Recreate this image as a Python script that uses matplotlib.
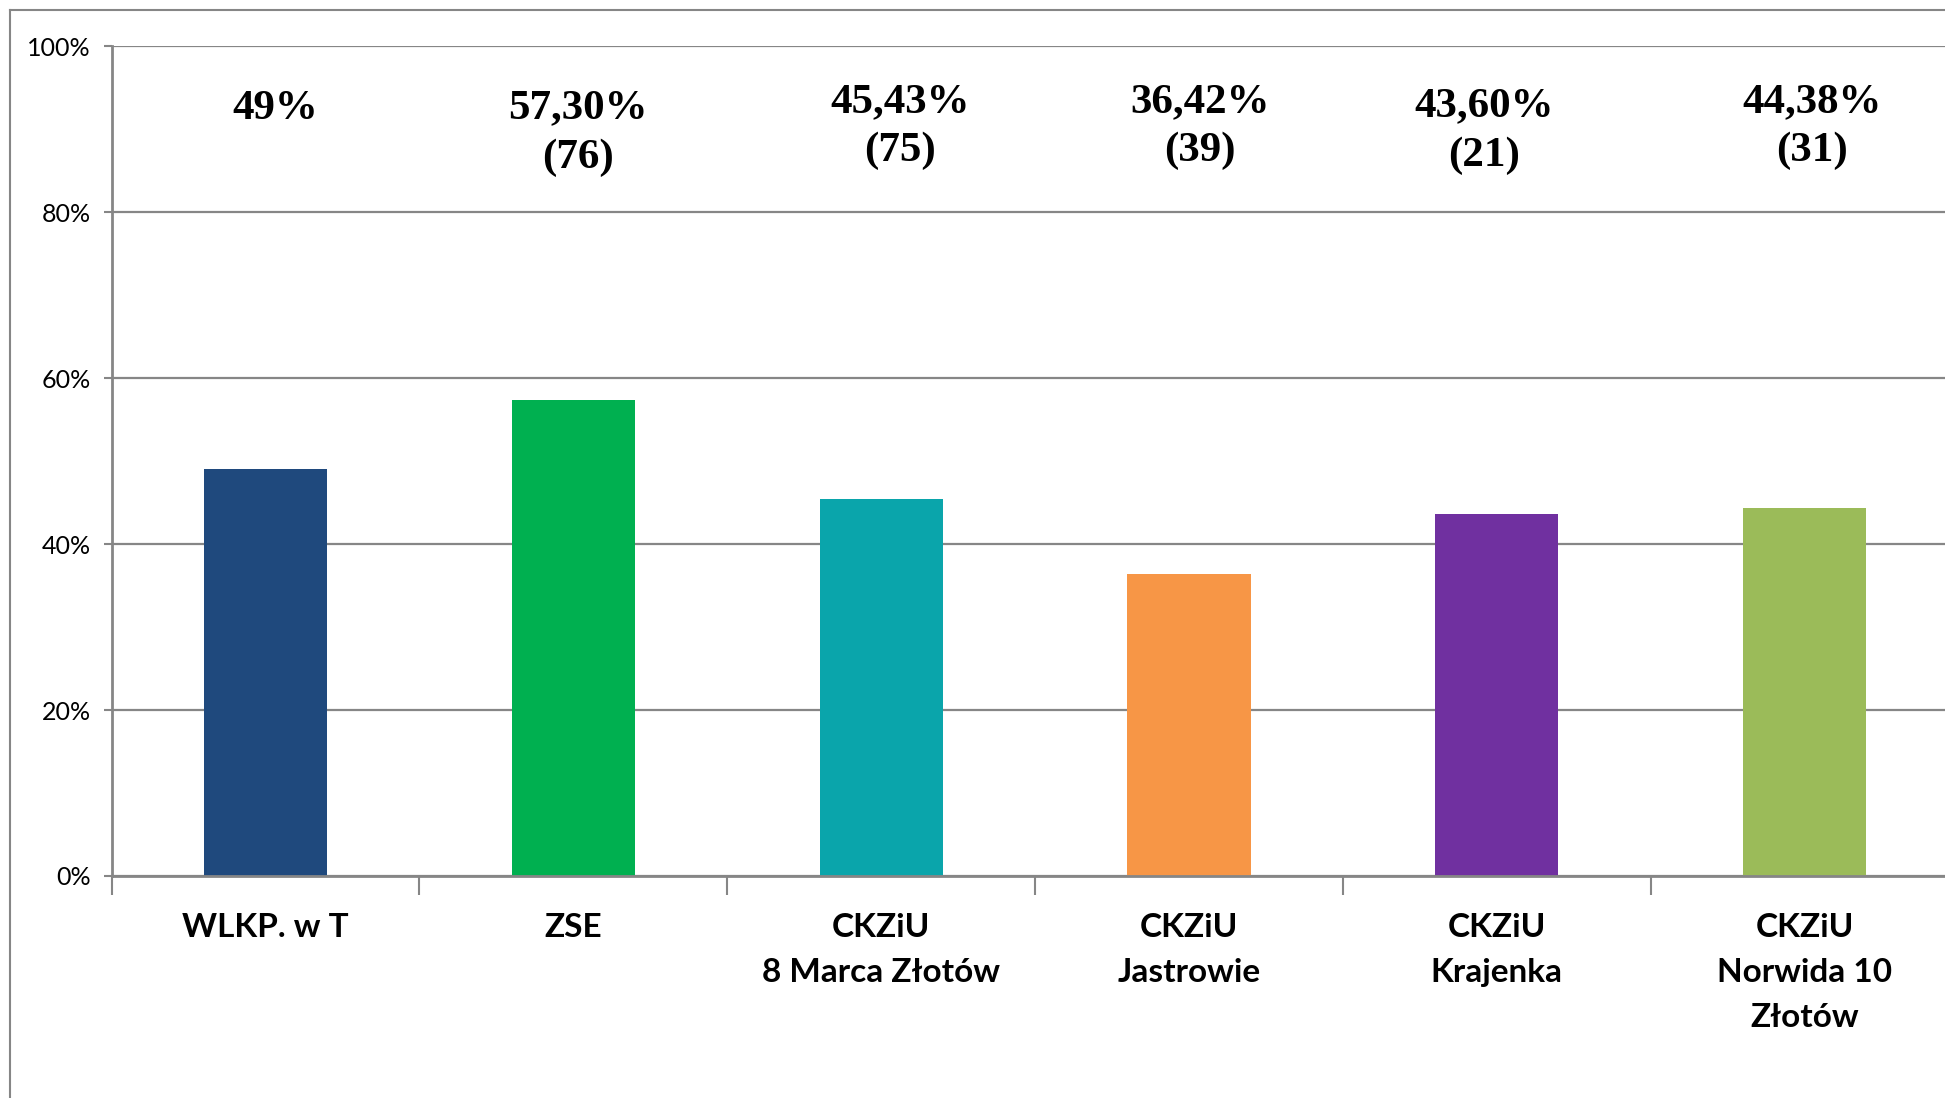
import matplotlib
matplotlib.use('Agg')
import matplotlib.pyplot as plt
from matplotlib.lines import Line2D
from matplotlib.ticker import FuncFormatter, FixedLocator

# Data
schools = ['WLKP. w T', 'ZSE', 'CKZiU\n8 Marca Złotów', 'CKZiU\nJastrowie',
           'CKZiU\nKrajenka', 'CKZiU\nNorwida 10\nZłotów']
percent = [49, 57.30, 45.43, 36.42, 43.60, 44.38]
value_text = ['49%', '57,30%\n(76)', '45,43%\n(75)', '36,42%\n(39)',
              '43,60%\n(21)', '44,38%\n(31)']
colors = ['#1F497D', '#00B050', '#0AA5AB', '#F79646', '#7030A0', '#9BBB59']

# label positions (small shifts as in the original slide)
label_dx = [0.03, 0.015, 0.06, 0.035, -0.04, 0.025]
label_y = [92.4, 89.5, 90.3, 90.3, 89.8, 90.3]

fig = plt.figure(figsize=(19.45, 10.98), dpi=100)
ax = fig.add_axes([0.0574, 0.2022, 0.9496, 0.7558])

grey = '#868686'
x = list(range(len(schools)))
ax.bar(x, percent, width=0.4, color=colors, zorder=2)

ax.set_xlim(-0.5, 5.5)
ax.set_ylim(0, 100)
ax.yaxis.set_major_locator(FixedLocator([0, 20, 40, 60, 80, 100]))
ax.yaxis.set_major_formatter(FuncFormatter(lambda v, p: '%d%%' % v))
ax.grid(axis='y', color=grey, linewidth=1.6, zorder=1)
ax.set_axisbelow(True)

for s in ['top', 'right']:
    ax.spines[s].set_visible(False)
for s in ['left', 'bottom']:
    ax.spines[s].set_color(grey)
    ax.spines[s].set_linewidth(2)
    ax.spines[s].set_zorder(3)

ax.tick_params(axis='y', colors=grey, length=6, width=1.5, labelcolor='black',
               labelsize=18, pad=9)
for t in ax.get_yticklabels():
    t.set_fontfamily('Lato')

ax.set_xticks(x)
ax.set_xticklabels(schools, fontfamily='Lato', fontweight='bold', fontsize=24,
                   linespacing=1.66, va='top')
ax.tick_params(axis='x', length=0, pad=27)
ax.set_xticks([i - 0.5 for i in range(len(schools) + 1)], minor=True)
ax.tick_params(axis='x', which='minor', length=14, width=1.5, colors=grey)

for i, txt in enumerate(value_text):
    ax.text(x[i] + label_dx[i], label_y[i], txt, ha='center', va='center',
            fontfamily='Liberation Serif', fontweight='bold', fontsize=31,
            linespacing=1.38)

# outer chart frame (partly cut off)
fig.add_artist(Line2D([0.005, 0.005], [0.0, 0.991], color=grey, linewidth=1.5,
                      transform=fig.transFigure))
fig.add_artist(Line2D([0.005, 1.0], [0.991, 0.991], color=grey, linewidth=1.5,
                      transform=fig.transFigure))

fig.savefig('out.png', dpi=100)
